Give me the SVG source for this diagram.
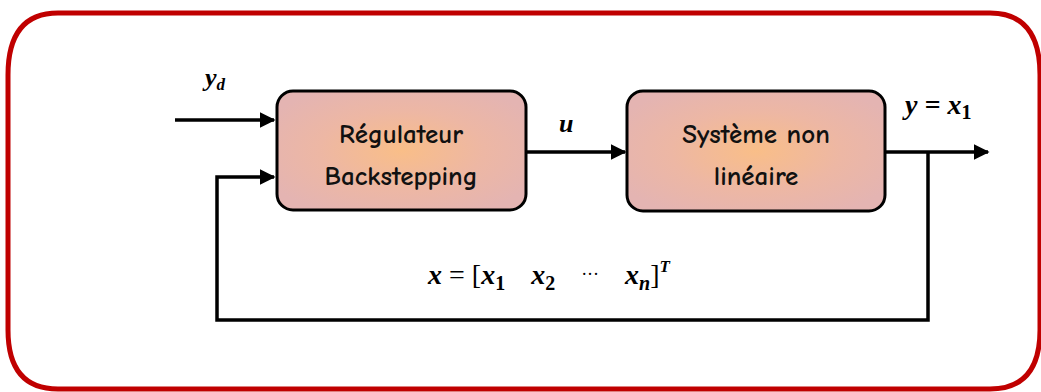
<svg xmlns="http://www.w3.org/2000/svg" width="1041" height="392" viewBox="0 0 1041 392">
<defs>
<radialGradient id="boxfill" cx="50%" cy="50%" r="60%">
<stop offset="0" stop-color="#F9BE88"/>
<stop offset="0.55" stop-color="#EDB7A4"/>
<stop offset="1" stop-color="#E4B4B2"/>
</radialGradient>
<marker id="arr" viewBox="0 0 10 10" refX="9" refY="5" markerWidth="4.5" markerHeight="4.5" markerUnits="strokeWidth" orient="auto">
<path d="M0,0 L10,5 L0,10 z" fill="#000"/>
</marker>
</defs>
<style>
.box{fill:url(#boxfill);stroke:#000;stroke-width:3}
.lbl{font-family:"Comic Neue","DejaVu Sans",sans-serif;font-size:27px;font-weight:bold;fill:#111;text-anchor:middle}
.math{font-family:"Liberation Serif",serif;font-style:italic;font-weight:bold;fill:#000}
.wire{fill:none;stroke:#000;stroke-width:3.5}
</style>
<path d="M58,13 H990 Q1040,13 1040,75 V330 Q1040,389 990,389 H58 Q8,389 8,330 V75 Q8,13 58,13 Z" fill="none" stroke="#C00000" stroke-width="5"/>
<g id="connectors">
<line class="wire" x1="175" y1="120" x2="274" y2="120" marker-end="url(#arr)"/>
<line class="wire" x1="527" y1="152" x2="625" y2="152" marker-end="url(#arr)"/>
<line class="wire" x1="886" y1="152" x2="988" y2="152" marker-end="url(#arr)"/>
<polyline class="wire" points="928,152 928,320 217,320 217,177 274,177" marker-end="url(#arr)"/>
</g>
<g id="regulateur">
<rect class="box" x="277" y="91" width="249" height="119" rx="16"/>
<text class="lbl" x="401" y="143">Régulateur</text>
<text class="lbl" x="401" y="185">Backstepping</text>
</g>
<g id="systeme">
<rect class="box" x="627" y="91" width="258" height="120" rx="16"/>
<text class="lbl" x="756" y="143">Système non</text>
<text class="lbl" x="756" y="185">linéaire</text>
</g>
<g id="labels">
<text class="math" x="205" y="86" font-size="26">y<tspan font-size="17" dy="4">d</tspan></text>
<text class="math" x="559" y="132" font-size="26">u</text>
<text class="math" x="905" y="114" font-size="28" font-weight="normal">y = x<tspan font-size="20" dy="5" font-style="normal">1</tspan></text>
<text class="math" x="428" y="284" font-size="28">x <tspan font-style="normal" font-weight="normal">= [</tspan>x<tspan font-size="20" dy="6" font-style="normal">1</tspan><tspan dy="-6" dx="26">x</tspan><tspan font-size="20" dy="6" font-style="normal">2</tspan><tspan dy="-10" dx="26" font-style="normal" font-weight="normal" font-size="18">···</tspan><tspan dy="4" dx="26">x</tspan><tspan font-size="20" dy="6">n</tspan><tspan dy="-6" font-style="normal" font-weight="normal">]</tspan><tspan font-size="17" dy="-12">T</tspan></text>
</g>
</svg>
